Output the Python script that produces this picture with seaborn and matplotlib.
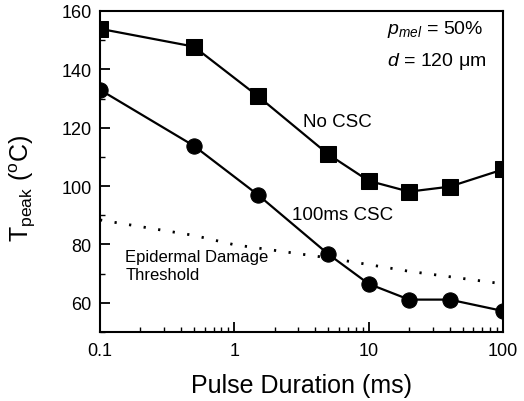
import matplotlib
matplotlib.use("Agg")
import matplotlib.pyplot as plt
import seaborn as sns
import numpy as np
import pandas as pd
from matplotlib.ticker import LogLocator, MultipleLocator, FixedLocator

pulse = [0.1, 0.5, 1.5, 5, 10, 20, 40, 100]
no_csc = [153.9, 147.8, 130.8, 110.9, 101.8, 98.1, 99.8, 105.7]
csc_100 = [133.0, 113.8, 97.0, 76.7, 66.5, 61.1, 61.1, 57.2]
thr_x = [0.1, 0.5, 1, 5, 10, 20, 100]
thr_y = [88.4, 83.1, 79.9, 75.4, 73.1, 70.8, 66.5]

sns.set_theme(style="white")
plt.rcParams['font.family'] = ['Liberation Sans', 'DejaVu Sans']
plt.rcParams['mathtext.fontset'] = 'custom'
plt.rcParams['mathtext.rm'] = 'Liberation Sans'
plt.rcParams['mathtext.it'] = 'Liberation Sans:italic'
plt.rcParams['text.color'] = 'black'
plt.rcParams['axes.labelcolor'] = 'black'

fig = plt.figure(figsize=(5.24, 4.02), dpi=100)
ax = fig.add_axes([100/524, 1-333/402, 403/524, 321/402])

df1 = pd.DataFrame({"x": pulse, "y": no_csc})
df2 = pd.DataFrame({"x": pulse, "y": csc_100})
df3 = pd.DataFrame({"x": thr_x, "y": thr_y})

sns.lineplot(data=df1, x="x", y="y", ax=ax, color="black", lw=1.6,
             marker="s", markersize=11, markeredgecolor="black", estimator=None)
sns.lineplot(data=df2, x="x", y="y", ax=ax, color="black", lw=1.6,
             marker="o", markersize=11, markeredgecolor="black", estimator=None)
sns.lineplot(data=df3, x="x", y="y", ax=ax, color="black", lw=2.0,
             linestyle=(0, (0.8, 4.5)), estimator=None)

ax.set_xscale("log")
ax.set_xlim(0.1, 100)
ax.set_ylim(50, 160)
ax.xaxis.set_major_locator(FixedLocator([0.1, 1, 10, 100]))
ax.set_xticklabels(["0.1", "1", "10", "100"])
ax.xaxis.set_minor_locator(LogLocator(base=10, subs=np.arange(2, 10)))
ax.set_yticks([60, 80, 100, 120, 140, 160])
ax.yaxis.set_minor_locator(MultipleLocator(10))

ax.tick_params(which="both", direction="in", top=False, right=False,
               left=True, bottom=True, colors="black")
ax.tick_params(which="major", length=7, width=1.3, labelsize=13)
ax.tick_params(axis="y", which="major", pad=6)
ax.tick_params(axis="x", which="major", pad=7)
ax.tick_params(which="minor", length=3.5, width=1.0)
for s in ax.spines.values():
    s.set_color("black")
    s.set_linewidth(1.5)

ax.set_xlabel("Pulse Duration (ms)", fontsize=18, labelpad=10)
ax.set_ylabel(r"T$_{\mathrm{peak}}$ ($^{\mathrm{o}}$C)", fontsize=18)
ax.yaxis.set_label_coords(-0.155, 0.45)

ax.text(3.26, 122.2, "No CSC", fontsize=13.5, ha="left", va="center")
ax.text(2.7, 90.1, "100ms CSC", fontsize=13.5, ha="left", va="center")
ax.text(0.154, 75.9, "Epidermal Damage", fontsize=12, ha="left", va="center")
ax.text(0.154, 69.7, "Threshold", fontsize=12, ha="left", va="center")
ax.text(13.8, 153.9, r"$p_{mel}$ = 50%", fontsize=14, ha="left", va="center")
ax.text(13.8, 142.9, r"$d$ = 120 $\mathrm{\mu}$m", fontsize=14, ha="left", va="center")

fig.savefig("out.png", dpi=100)
